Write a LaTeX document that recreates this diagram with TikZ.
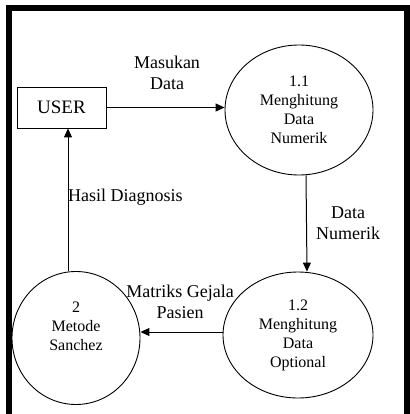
\documentclass[tikz,border=0pt]{standalone}
\usepackage{fontspec}
\setmainfont{Liberation Serif}
\usetikzlibrary{shapes,arrows.meta,positioning}
\tikzstyle{line} = [draw, -{Triangle[length=9pt,width=8pt]}, line width=1pt]

\begin{document}
\begin{tikzpicture}[x=1pt,y=-1pt, proc/.style={ellipse,draw,line width=0.9pt,inner sep=0pt,align=center,font=\fontsize{16}{19}\selectfont}, ent/.style={rectangle,draw,line width=0.9pt,font=\fontsize{19}{21}\selectfont}, lbl/.style={align=center,font=\fontsize{18}{21}\selectfont}]

    \useasboundingbox (0,0) rectangle (409,414);
    \draw[line width=6pt] (9,8.5) rectangle (407,420);

    \node[ent, minimum width=89pt, minimum height=41pt] (user) at (61.5,107.5) {USER};
    \node[proc, minimum width=148pt, minimum height=130pt] (p11) at (299,110) {1.1\\Menghitung\\Data\\Numerik};
    \node[proc, minimum width=150pt, minimum height=126pt] (p12) at (298,335) {1.2\\Menghitung\\Data\\Optional};
    \node[proc, minimum width=128pt, minimum height=133pt, label={[proc,draw=none,yshift=12pt]center:2\\Metode\\Sanchez}] (p2) at (76,338) {};

    \draw[line] (user.east) -- (user.east -| p11.west);
    \draw[line] ([xshift=7pt]p11.south) -- ([xshift=9pt]p12.north);
    \draw[line] ([yshift=3pt]p12.west) -- ([yshift=3pt]p12.west -| p2.east);
    \draw[line] ([xshift=-8pt]p2.north) -- ([xshift=-8pt]p2.north |- user.south);

    \node[lbl] (masukan) at (167,73) {Masukan\\Data};
    \node[lbl] (numerik) at (348,223) {Data\\Numerik};
    \node[lbl] (matriks) at (180,302) {Matriks Gejala\\Pasien};
    \node[lbl, anchor=west, inner sep=0pt] (hasil) at (68,197) {Hasil Diagnosis};

\end{tikzpicture}
\end{document}
